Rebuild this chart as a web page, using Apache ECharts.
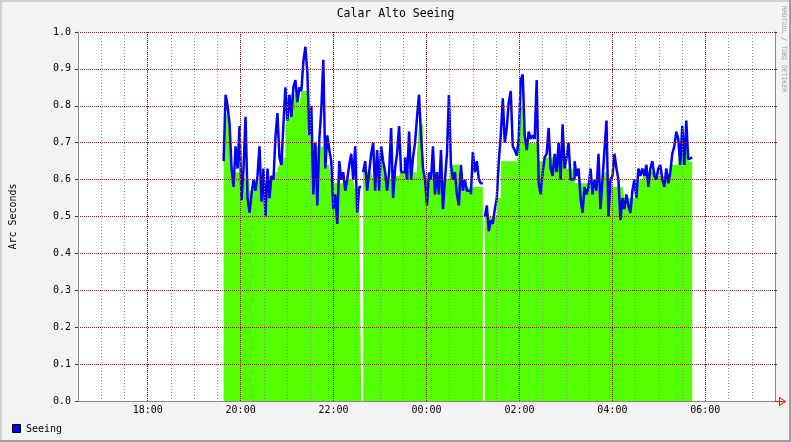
<!DOCTYPE html>
<html><head><meta charset="utf-8">
<script src="https://cdn.jsdelivr.net/npm/echarts@6/dist/echarts.min.js"></script>
<style>html,body{margin:0;padding:0;background:#f3f3f3}#c{width:791px;height:442px}</style>
</head><body><div id="c"></div>
<script>
const TITLE = 'Calar Alto Seeing';
const Y_NAME = 'Arc Seconds';
const SERIES_NAME = 'Seeing';
const CREDIT = 'RRDTOOL / TOBI OETIKER';
const X_TICK_HOURS = [18, 20, 22, 24, 26, 28, 30];
const X_TICK_LABELS = ['18:00', '20:00', '22:00', '00:00', '02:00', '04:00', '06:00'];
const X_MIN = 16.5, X_MAX = 31.5;
const START_MIN = 1178;   // 19:38
const STEP_MIN = 2.575;

// blue line values (Arc seconds)
const seeingLine = [
  0.65,0.83,0.80,0.75,0.63,0.58,0.69,0.63,0.745,0.545,
  0.63,0.77,0.55,0.51,0.56,0.60,0.57,0.61,0.69,0.54,
  0.63,0.50,0.63,0.55,0.61,0.60,0.715,0.78,0.66,0.64,
  0.75,0.85,0.76,0.83,0.77,0.85,0.87,0.81,0.85,0.84,
  0.92,0.96,0.89,0.72,0.80,0.56,0.70,0.53,0.71,0.79,
  0.925,0.63,0.72,0.68,0.65,0.52,0.56,0.48,0.65,0.60,
  0.62,0.57,0.60,0.64,0.67,0.60,0.69,0.51,0.58,null,
  0.62,0.65,0.57,0.62,0.67,0.70,0.57,0.68,0.57,0.69,
  0.65,0.62,0.57,0.62,0.74,0.55,0.63,0.67,0.745,0.62,
  0.62,0.66,0.60,0.73,0.60,0.66,0.70,0.77,0.83,0.72,
  0.63,0.60,0.53,0.62,0.60,0.69,0.56,0.62,0.56,0.68,
  0.52,0.60,0.67,0.83,0.64,0.60,0.62,0.56,0.53,0.64,
  0.57,0.60,0.57,0.57,0.56,0.675,0.62,0.65,0.60,0.59,
  null,0.50,0.53,0.46,0.49,0.48,0.52,0.55,0.65,0.72,
  0.82,0.70,0.74,0.81,0.84,0.69,0.68,0.665,0.71,0.87,
  0.885,0.72,0.68,0.73,0.71,0.72,0.71,0.87,0.59,0.56,
  0.62,0.66,0.67,0.74,0.63,0.61,0.67,0.62,0.70,0.60,
  0.75,0.63,0.66,0.70,0.60,0.60,0.65,0.61,0.63,0.55,
  0.51,0.58,0.56,0.58,0.63,0.56,0.60,0.57,0.67,0.52,
  0.60,0.68,0.76,0.50,0.60,0.61,0.67,0.63,0.60,0.49,
  0.55,0.52,0.56,0.53,0.51,0.57,0.60,0.55,0.63,0.61,
  0.63,0.61,0.64,0.58,0.63,0.65,0.61,0.60,0.63,0.64,
  0.60,0.58,0.63,0.59,0.62,0.67,0.69,0.73,0.71,0.64,
  0.745,0.64,0.76,0.655,0.66
];

// green area values (Arc seconds)
const seeingArea = [
  0.65,0.78,0.77,0.72,0.63,0.62,0.62,0.62,0.62,0.62,
  0.61,0.60,0.60,0.57,0.57,0.59,0.59,0.59,0.60,0.59,
  0.56,0.56,0.57,0.61,0.61,0.62,0.62,0.63,0.64,0.66,
  0.66,0.75,0.76,0.77,0.83,0.83,0.83,0.83,0.80,0.84,
  0.84,0.84,0.84,0.73,0.70,0.70,0.70,0.69,0.69,0.69,
  0.69,0.64,0.64,0.64,0.58,0.59,0.59,0.59,0.59,0.59,
  0.59,0.60,0.60,0.60,0.60,0.60,0.57,0.57,0.57,null,
  0.62,0.62,0.62,0.62,0.62,0.60,0.60,0.60,0.60,0.64,
  0.64,0.64,0.60,0.60,0.61,0.61,0.61,0.61,0.61,0.625,
  0.625,0.625,0.625,0.625,0.62,0.62,0.62,0.67,0.75,0.75,
  0.67,0.60,0.60,0.60,0.60,0.60,0.60,0.60,0.60,0.60,
  0.60,0.60,0.60,0.60,0.64,0.64,0.64,0.64,0.58,0.58,
  0.58,0.58,0.58,0.58,0.58,0.58,0.58,0.58,0.58,0.58,
  null,0.50,0.50,0.50,0.50,0.50,0.50,0.55,0.55,0.65,
  0.65,0.65,0.65,0.65,0.65,0.65,0.65,0.65,0.68,0.80,
  0.80,0.70,0.70,0.70,0.70,0.70,0.70,0.70,0.65,0.65,
  0.65,0.66,0.66,0.66,0.66,0.66,0.67,0.67,0.67,0.67,
  0.67,0.63,0.63,0.63,0.63,0.63,0.59,0.59,0.59,0.59,
  0.59,0.59,0.59,0.59,0.57,0.57,0.57,0.57,0.57,0.57,
  0.57,0.62,0.62,0.62,0.58,0.58,0.58,0.58,0.58,0.58,
  0.58,0.55,0.55,0.55,0.55,0.55,0.55,0.55,0.60,0.60,
  0.60,0.62,0.62,0.62,0.62,0.62,0.62,0.62,0.61,0.61,
  0.61,0.61,0.61,0.61,0.64,0.64,0.64,0.64,0.67,0.67,
  0.67,0.70,0.70,0.65,0.65
];

const toH = i => (START_MIN + i * STEP_MIN) / 60;
function build(vals) {
  const d = vals.map((v, i) => [toH(i), v]);
  d.push([toH(vals.length), vals[vals.length - 1]]);
  return d;
}

const MONO = '"DejaVu Sans Mono", "Liberation Mono", monospace';
const RED = '#8b1e1e';
const GREY = '#8c8c8c';

const chart = echarts.init(document.getElementById('c'), null, { renderer: 'canvas' });
chart.setOption({
  animation: false,
  backgroundColor: '#f3f3f3',
  grid: { left: 76, top: 32, width: 699, height: 369, show: true, backgroundColor: '#ffffff', borderWidth: 0 },
  xAxis: {
    type: 'value', min: X_MIN, max: X_MAX, interval: 0.5, z: 10,
    axisLine: { show: true, lineStyle: { color: '#888', width: 1 } },
    axisTick: { show: false },
    axisLabel: {
      margin: 4, fontFamily: MONO, fontSize: 10, color: '#000',
      formatter: v => { const k = X_TICK_HOURS.indexOf(Math.round(v * 2) / 2); return k >= 0 ? X_TICK_LABELS[k] : ''; }
    },
    splitLine: { show: true, lineStyle: { color: GREY, width: 1, type: [1, 2] } }
  },
  yAxis: [{
    type: 'value', min: 0, max: 1, interval: 0.1, z: 10,
    name: Y_NAME, nameLocation: 'middle', nameRotate: 90, nameGap: 60,
    nameTextStyle: { fontFamily: MONO, fontSize: 10, color: '#000' },
    axisLine: { show: true, lineStyle: { color: '#888' } },
    axisTick: { show: true, length: 3, lineStyle: { color: RED } },
    axisLabel: { margin: 7, fontFamily: MONO, fontSize: 10, color: '#000', formatter: v => v.toFixed(1) },
    splitLine: { show: true, lineStyle: { color: RED, width: 1, type: [1, 1] } }
  }, {
    type: 'value', min: 0, max: 1, interval: 0.1, position: 'right', z: 10,
    axisLine: { show: true, lineStyle: { color: '#888' } },
    axisTick: { show: true, length: 2, lineStyle: { color: RED } },
    axisLabel: { show: false }, splitLine: { show: false }
  }],
  series: [{
    name: 'area', type: 'line', step: 'end', showSymbol: false, symbol: 'none',
    data: build(seeingArea), connectNulls: false,
    lineStyle: { width: 0, color: '#54ff00' },
    areaStyle: { color: '#54ff00', opacity: 1 }, z: 2,
    markLine: {
      silent: true, symbol: 'none', z: 12, animation: false,
      label: { show: false },
      lineStyle: { color: RED, width: 1, type: [1, 1] },
      data: X_TICK_HOURS.map(h => ({ xAxis: h }))
    }
  }, {
    name: SERIES_NAME, type: 'line', step: 'end', showSymbol: false, symbol: 'none',
    data: build(seeingLine), connectNulls: false,
    lineStyle: { width: 2.5, color: '#0000ff' }, z: 3
  }],
  graphic: [
    { type: 'text', left: 'center', top: 8, style: { text: TITLE, font: '11.5px ' + MONO, fill: '#000' } },
    { type: 'text', x: 784, y: 6, rotation: -Math.PI / 2,
      style: { text: CREDIT, font: '6.5px ' + MONO, fill: '#999', align: 'left', verticalAlign: 'middle' } },
    { type: 'rect', shape: { x: 12.5, y: 424.5, width: 8, height: 8 }, style: { fill: '#0000ff', stroke: '#000', lineWidth: 1 } },
    { type: 'text', x: 26, y: 429, style: { text: SERIES_NAME, font: '10px ' + MONO, fill: '#000', verticalAlign: 'middle' } },
    { type: 'polyline', shape: { points: [[775, 401.5], [785, 401.5]] }, style: { stroke: '#ff0000', lineWidth: 1 } },
    { type: 'polygon', shape: { points: [[779.5, 397.5], [785.5, 401.5], [779.5, 405.5]] }, style: { fill: 'none', stroke: '#ff0000', lineWidth: 1 } },
    { type: 'rect', shape: { x: 0, y: 0, width: 791, height: 2 }, style: { fill: '#d0d0d0' } },
    { type: 'rect', shape: { x: 0, y: 0, width: 2, height: 442 }, style: { fill: '#d0d0d0' } },
    { type: 'rect', shape: { x: 0, y: 440, width: 791, height: 2 }, style: { fill: '#9e9e9e' } },
    { type: 'rect', shape: { x: 789, y: 0, width: 2, height: 442 }, style: { fill: '#9e9e9e' } }
  ]
});
</script></body></html>
